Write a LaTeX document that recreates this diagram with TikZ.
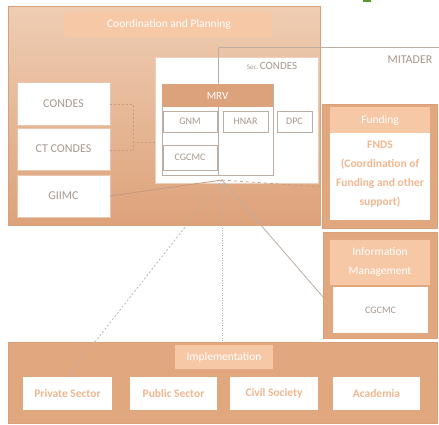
\documentclass[tikz,border=0pt]{standalone}
\usepackage{fontspec}
\setmainfont{Carlito}
\definecolor{panelTop}{HTML}{EFCDB3}
\definecolor{panelBot}{HTML}{DDA27A}
\definecolor{panelEdge}{HTML}{D9A07A}
\definecolor{titleFill}{HTML}{F6C8A6}
\definecolor{hdrFill}{HTML}{DCA27B}
\definecolor{greyText}{HTML}{A8988C}
\definecolor{peachText}{HTML}{F0B790}
\definecolor{conn}{HTML}{C49A7E}
\definecolor{lineGrey}{HTML}{BCAEA2}
\definecolor{solidTan}{HTML}{E1A77F}
\definecolor{blot}{HTML}{5A9A2A}
\tikzset{
  box/.style={anchor=north west, inner sep=0pt, outer sep=0pt, align=center},
  panel/.style={box, draw=panelEdge, line width=1pt},
  titlebox/.style={box, fill=titleFill, text=white, font=\fontsize{11.5}{19}\selectfont},
  whitebox/.style={box, fill=white, draw=panelEdge!60, line width=0.6pt},
  smallbox/.style={box, fill=white, draw=lineGrey, line width=0.8pt, text=greyText, font=\fontsize{10}{12}\selectfont},
  peachlbl/.style={text=peachText, font=\bfseries\fontsize{11.5}{19}\selectfont},
  greylbl/.style={text=greyText, font=\fontsize{12}{14}\selectfont},
  conndash/.style={draw=conn, line width=0.7pt, dash pattern=on 2pt off 2pt},
  connline/.style={draw=lineGrey, line width=0.8pt}
}
\begin{document}
\begin{tikzpicture}[x=1pt,y=-1pt]
\useasboundingbox (0,0) rectangle (439,425);
\fill[white] (0,0) rectangle (439,425);
% green blot at top
\fill[blot] (363,0) rectangle (371,2.5) coordinate (blotc);
% Coordination and Planning panel
\node[panel, top color=panelTop, bottom color=panelBot, minimum width=312pt, minimum height=218pt] (coord) at (8,7) {};
\node[titlebox, minimum width=208pt, minimum height=25pt] (coordT) at (65,12) {Coordination and Planning};
% Sec. CONDES
\node[whitebox, draw=panelEdge!50, minimum width=163pt, minimum height=126pt] (sec) at (155,57) {};
\node[greylbl, anchor=center] (secL) at (272,66) {\fontsize{7}{8}\selectfont Sec.\ \fontsize{11}{13}\selectfont CONDES};
% MITADER frame
\coordinate (mitR) at (439,47);
\coordinate (mitL) at (218,47);
\coordinate (mitB) at (218,175);
\draw[connline] (mitR) -- (mitL) -- (mitB);
\node[greylbl, anchor=center] (mitT) at (410,60) {MITADER};
% MRV
\node[box, draw=lineGrey, line width=0.8pt, minimum width=111pt, minimum height=91pt] (mrv) at (162,84) {};
\node[box, fill=hdrFill, text=white, font=\fontsize{11}{13}\selectfont, minimum width=111pt, minimum height=23pt] (mrvH) at (162,84) {MRV};
\node[smallbox, minimum width=54pt, minimum height=21pt] (gnm) at (163,111) {GNM};
\node[smallbox, minimum width=45pt, minimum height=21pt] (hnar) at (223,111) {HNAR};
\node[smallbox, minimum width=35pt, minimum height=21pt] (dpc) at (277,111) {DPC};
\node[smallbox, minimum width=54pt, minimum height=25pt] (cgcmcA) at (163,145) {CGCMC};
% left column
\node[whitebox, greylbl, minimum width=93pt, minimum height=43pt] (condes) at (17,82) {CONDES};
\node[whitebox, greylbl, minimum width=93pt, minimum height=42pt] (ctcondes) at (17,128) {CT CONDES};
\node[whitebox, greylbl, minimum width=93pt, minimum height=42pt] (giimc) at (17,175) {GIIMC};
% Funding
\node[panel, fill=solidTan, minimum width=115pt, minimum height=123pt] (fund) at (322,105) {};
\node[titlebox, minimum width=100pt, minimum height=26pt] (fundT) at (330,107) {Funding};
\node[box, fill=white, minimum width=100pt, minimum height=87pt] (fnds) at (330,133) {};
\node[peachlbl, anchor=center, align=center] (fndsL) at (380,174) {FNDS\\(Coordination of\\Funding and other\\support)};
% Information Management
\node[panel, fill=solidTan, minimum width=114pt, minimum height=106pt] (info) at (323,232) {};
\node[titlebox, minimum width=100pt, minimum height=45pt] (infoT) at (330,240) {Information\\Management};
\node[box, fill=white, text=greyText, font=\fontsize{10}{12}\selectfont, minimum width=95pt, minimum height=46pt] (cgcmcB) at (333,287) {CGCMC};
% Implementation
\node[panel, fill=solidTan, minimum width=429pt, minimum height=81pt] (impl) at (8,342) {};
\node[titlebox, minimum width=98pt, minimum height=24pt] (implT) at (175,345) {Implementation};
\node[box, fill=white, peachlbl, minimum width=89pt, minimum height=33pt] (priv) at (23,377) {Private Sector};
\node[box, fill=white, peachlbl, minimum width=87pt, minimum height=33pt] (pub) at (130,377) {Public Sector};
\node[box, fill=white, peachlbl, minimum width=88pt, minimum height=33pt] (civ) at (230,377) {Civil Society};
\node[box, fill=white, peachlbl, minimum width=87pt, minimum height=33pt] (acad) at (333,377) {Academia};
% connectors
\coordinate (hub) at (222,180);
\coordinate (jTop) at (133,104);
\coordinate (jMid) at (133,142);
\coordinate (jBot) at (133,150);
\draw[conndash] (condes.east |- jTop) -- (jTop) -- (jBot);
\draw[conndash] (ctcondes.east |- jBot) -- (jBot);
\draw[conndash] (jMid) -- (sec.west |- jMid);
\draw[draw=conn, line width=0.8pt] (giimc.east) -- (hub);
\draw[conndash, dash pattern=on 3pt off 3pt] (hub) -- (fund.west |- 0,187);
\draw[conndash, draw=lineGrey] (hub) -- (priv.north);
\draw[conndash, draw=lineGrey, dash pattern=on 1pt off 1.5pt] (hub) -- (hub |- impl.north);
\draw[connline] (hub) -- (info.west |- 0,297);
\end{tikzpicture}
\end{document}
